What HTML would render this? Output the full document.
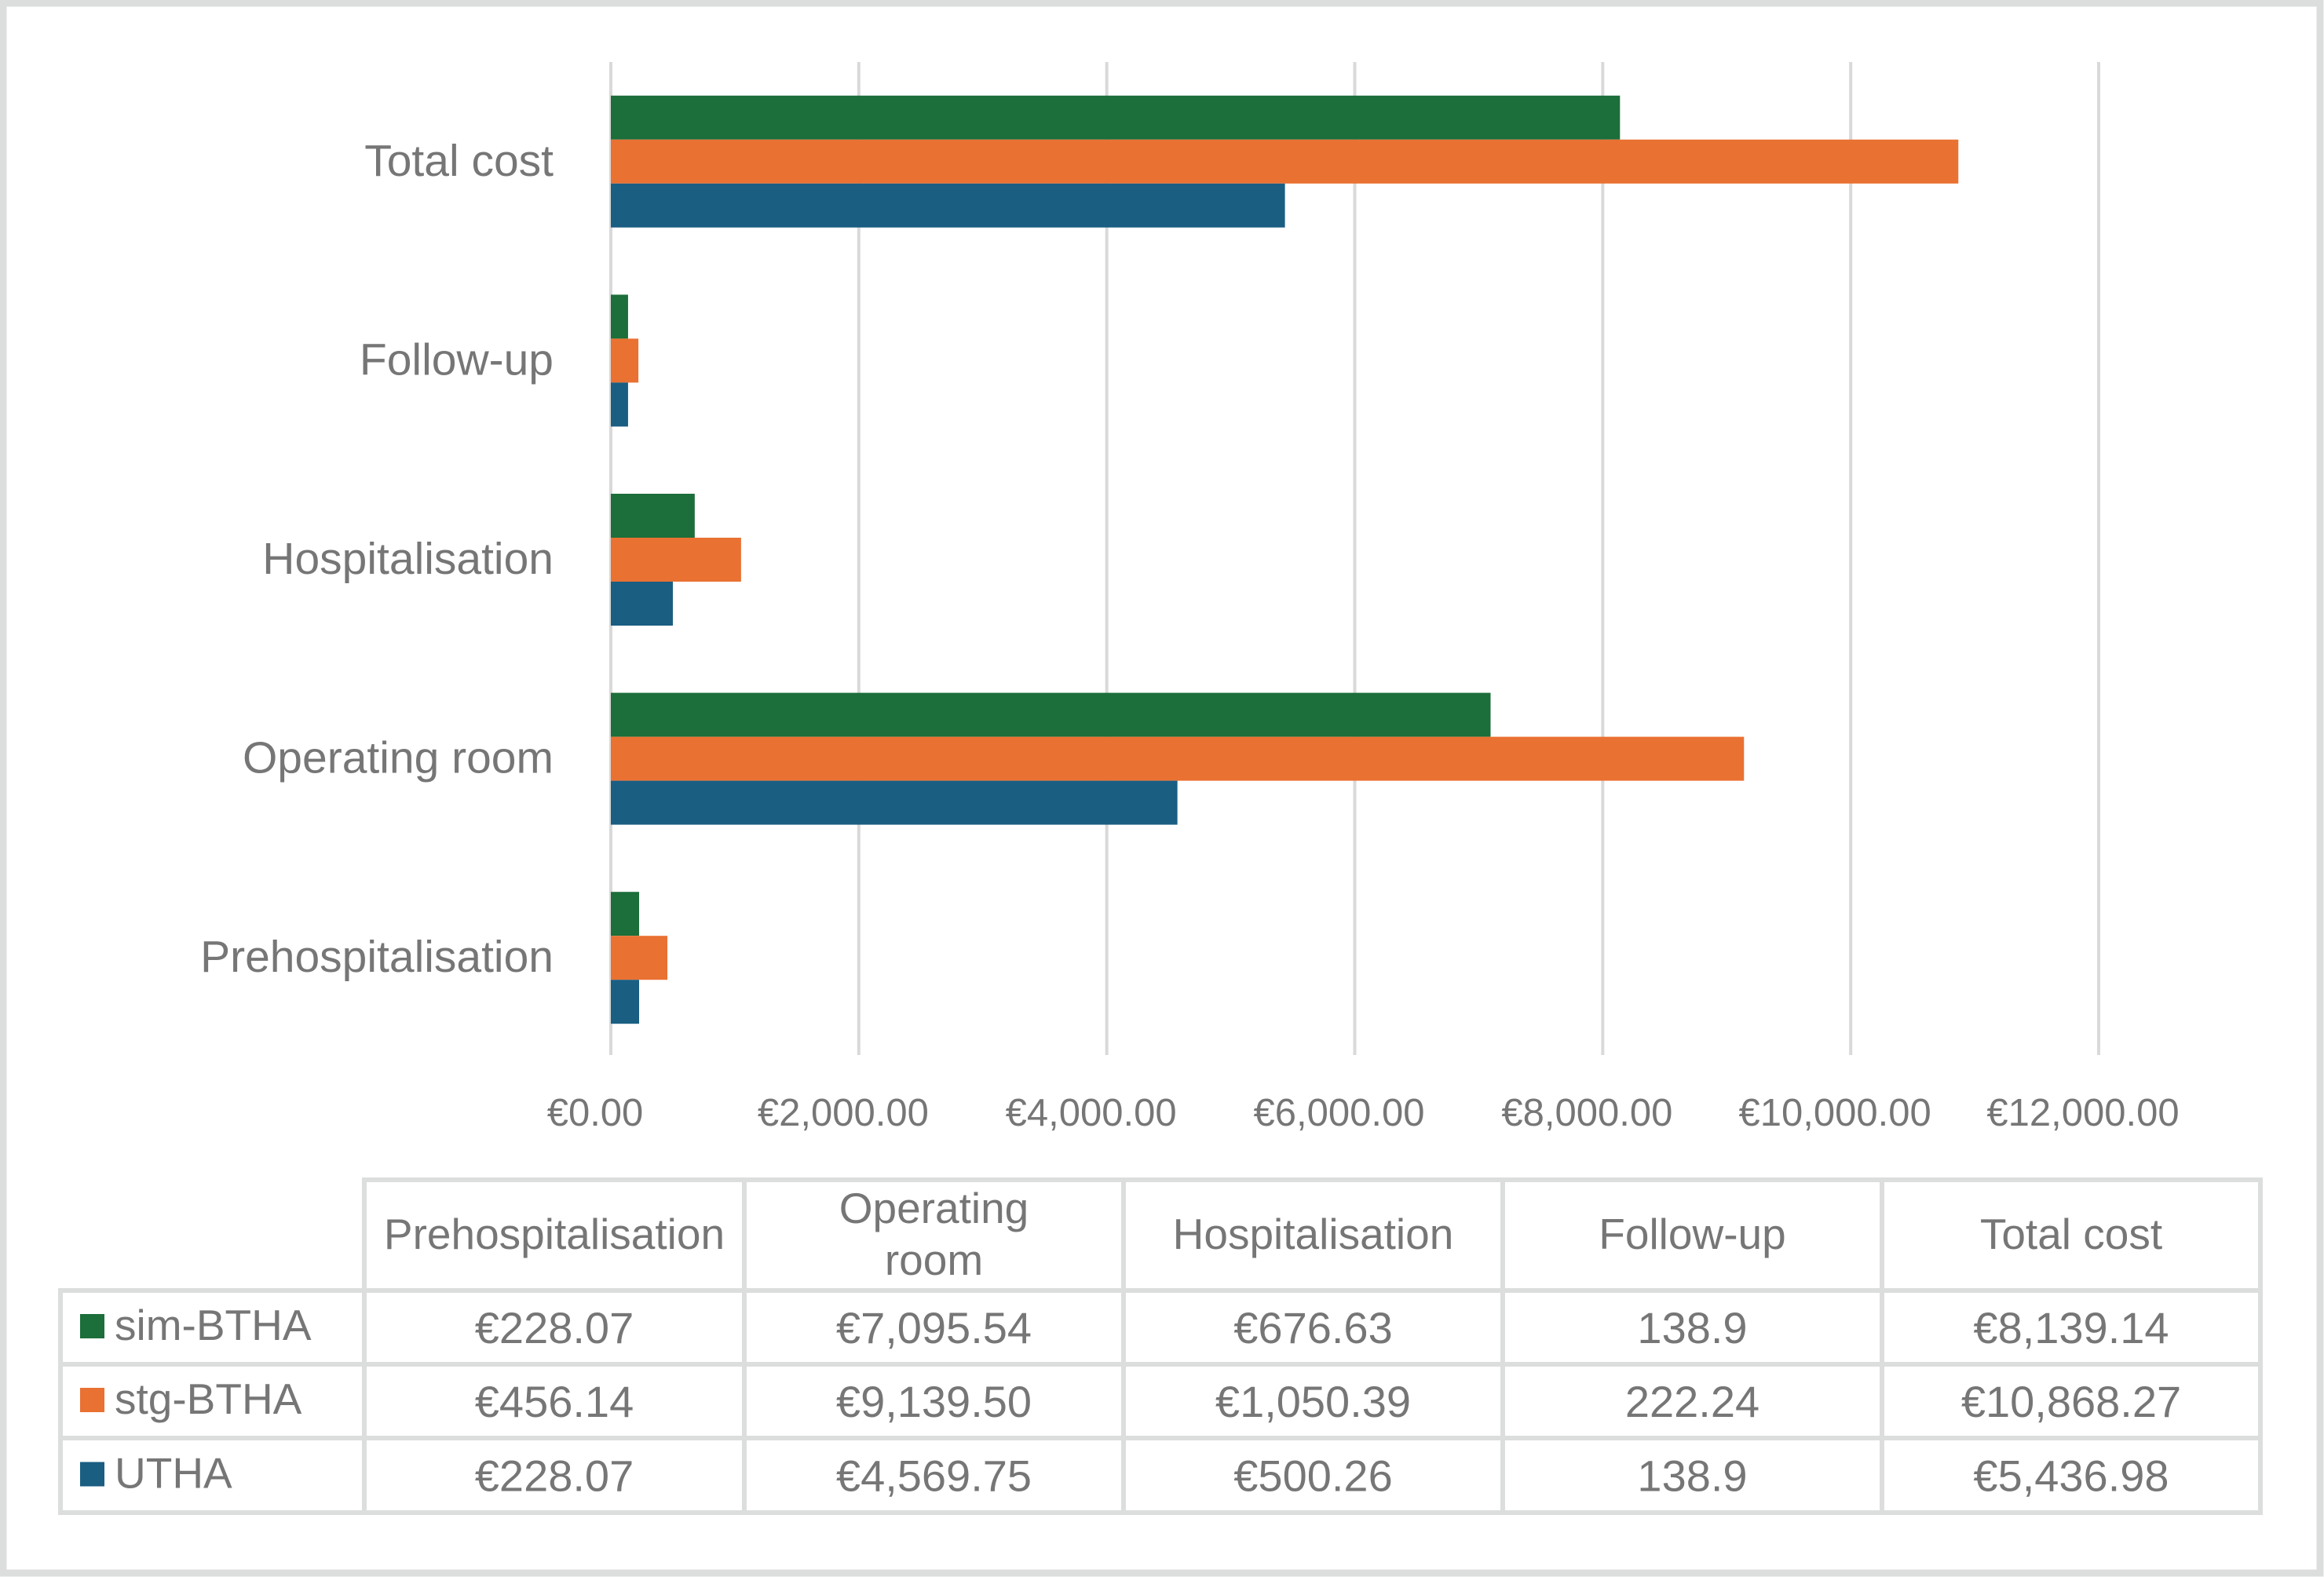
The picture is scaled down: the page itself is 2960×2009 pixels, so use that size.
<!DOCTYPE html>
<html><head><meta charset="utf-8"><style>
html,body{margin:0;padding:0;background:#fff}
svg{display:block}
text{font-family:"Liberation Sans",Arial,sans-serif;fill:#767676}
</style></head><body>
<svg id="chart" width="2960" height="2009" viewBox="0 0 2960 2009" xmlns="http://www.w3.org/2000/svg">
<rect x="4" y="4" width="2951" height="2000" fill="#fff" stroke="#dcdedd" stroke-width="9"/>
<g id="grid"></g><g id="bars"></g><g id="labels"></g><g id="table"></g>
</svg>
<script>
const categories = ["Total cost","Follow-up","Hospitalisation","Operating room","Prehospitalisation"];
const seriesNames = ["sim-BTHA","stg-BTHA","UTHA"];
const simValues = [8139.14,138.9,676.63,7095.54,228.07];
const stgValues = [10868.27,222.24,1050.39,9139.50,456.14];
const uthaValues = [5436.98,138.9,500.26,4569.75,228.07];
const ticks = [0,2000,4000,6000,8000,10000,12000];
const tickLabels = ["€0.00","€2,000.00","€4,000.00","€6,000.00","€8,000.00","€10,000.00","€12,000.00"];
const tableCols = ["Prehospitalisation","Operating room","Hospitalisation","Follow-up","Total cost"];
const tableSim = ["€228.07","€7,095.54","€676.63","138.9","€8,139.14"];
const tableStg = ["€456.14","€9,139.50","€1,050.39","222.24","€10,868.27"];
const tableUtha = ["€228.07","€4,569.75","€500.26","138.9","€5,436.98"];

const NS="http://www.w3.org/2000/svg";
const colors=["#1c6e3a","#e97132","#1a5e82"];
const x0=778, xPer=(2673-778)/12000;
const xs=v=>x0+v*xPer;
const bandTop=79, band=253.6;
const yc=i=>bandTop+band*(i+0.5);
const barH=56;
function mk(tag,attrs,parent,txt){const e=document.createElementNS(NS,tag);for(const k in attrs)e.setAttribute(k,attrs[k]);if(txt!==undefined)e.textContent=txt;parent.appendChild(e);return e;}
const grid=document.getElementById('grid'),bars=document.getElementById('bars'),labels=document.getElementById('labels'),table=document.getElementById('table');
ticks.forEach((t,i)=>{
  const l=mk('line',{x1:xs(t),x2:xs(t),y1:79,y2:1344,stroke:'#d9d9d9','stroke-width':4},grid);
  
  
  const tx=mk('text',{x:xs(t)-20,y:1434,'text-anchor':'middle','font-size':49},labels,tickLabels[i]);
  
  
});
const series=[simValues,stgValues,uthaValues];
categories.forEach((c,i)=>{
  const t=mk('text',{x:705,y:yc(i)+18,'text-anchor':'end','font-size':57},labels,c);
  
  
  series.forEach((s,j)=>{
    const r=mk('rect',{x:xs(0),y:yc(i)-1.5*barH+j*barH,width:xs(s[i])-xs(0),height:barH,fill:colors[j]},bars);
    
    
  });
});
const colX=[77,464,948,1431,1914,2397,2879];
const rowY=[1503,1644,1738,1832,1927];
const bc='#dcdedd';
mk('rect',{x:colX[1],y:rowY[0],width:colX[6]-colX[1],height:rowY[1]-rowY[0],fill:'none',stroke:bc,'stroke-width':6},table);
mk('rect',{x:colX[0],y:rowY[1],width:colX[6]-colX[0],height:rowY[4]-rowY[1],fill:'none',stroke:bc,'stroke-width':6},table);
for(let k=2;k<=5;k++) mk('line',{x1:colX[k],x2:colX[k],y1:rowY[0],y2:rowY[4],stroke:bc,'stroke-width':6},table);
mk('line',{x1:colX[1],x2:colX[1],y1:rowY[0],y2:rowY[4],stroke:bc,'stroke-width':6},table);
for(let r=2;r<=3;r++) mk('line',{x1:colX[0],x2:colX[6],y1:rowY[r],y2:rowY[r],stroke:bc,'stroke-width':6},table);
tableCols.forEach((h,k)=>{
  const cx=(colX[k+1]+colX[k+2])/2;
  if(h==="Operating room"){
    const a=mk('text',{x:cx,y:1558,'text-anchor':'middle','font-size':55},table,"Operating");
    
    
    const b=mk('text',{x:cx,y:1624,'text-anchor':'middle','font-size':55},table,"room");
    
    
  } else {
    const a=mk('text',{x:cx,y:1591,'text-anchor':'middle','font-size':55},table,h);
    
    
  }
});
const rows=[tableSim,tableStg,tableUtha];
rows.forEach((row,r)=>{
  const cy=(rowY[r+1]+rowY[r+2])/2;
  const sq=mk('rect',{x:102,y:cy-17,width:31,height:31,fill:colors[r]},table);
  
  
  const n=mk('text',{x:146,y:cy+16,'font-size':55},table,seriesNames[r]);
  
  
  row.forEach((v,k)=>{
    const t=mk('text',{x:(colX[k+1]+colX[k+2])/2,y:cy+20,'text-anchor':'middle','font-size':56},table,v);
    
    
  });
});
</script>
</body></html>
